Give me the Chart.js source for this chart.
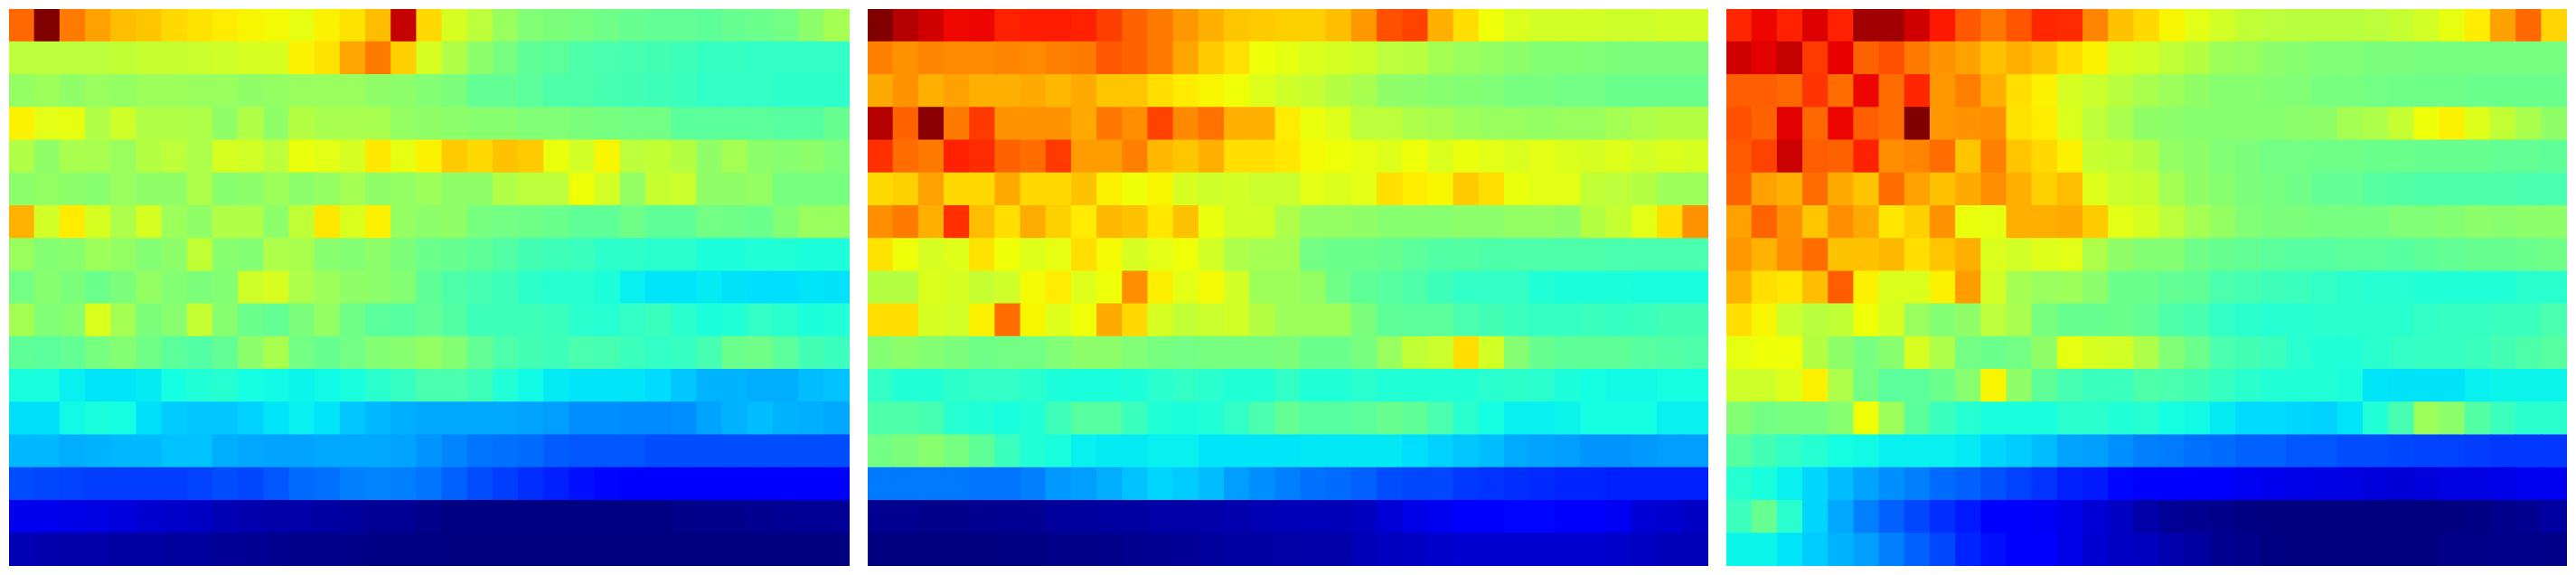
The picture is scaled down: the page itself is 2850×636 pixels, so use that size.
<!DOCTYPE html>
<html>
<head>
<meta charset="utf-8">
<title>Heatmaps</title>
<script src="https://cdn.jsdelivr.net/npm/chart.js@4"></script>
<style>
    html, body { margin: 0; padding: 0; background: #ffffff; }
    .panel { position: absolute; top: 10px; width: 930px; height: 616px; }
</style>
</head>
<body>
<div class="panel" style="left:10px"><canvas id="heatA"></canvas></div>
<div class="panel" style="left:960px"><canvas id="heatB"></canvas></div>
<div class="panel" style="left:1910px"><canvas id="heatC"></canvas></div>
<script>
// cell values on a 0-100 scale, one line per row, top row first
const panelA = [
    [80,100,78,74,71,70,68,67,66,65,64.5,63,65.5,67,71,94,68,61,58,53.5,50.5,50,49.5,48.5,47.5,47,47,46.5,47.5,48,49,52,55],
    [58,58,58,58,58.5,59,59,59.5,60,61,61,65.5,67,73.5,78,69,61,56.5,52,49.5,46.5,46,44.5,44,43.5,43,42.5,41.5,41.5,41,41,41,41],
    [53,54,52.5,53.5,53,54,54,53.5,53.5,52.5,53,53.5,53.5,53.5,52.5,52,51,50,47,47,46,44.5,44.5,43.5,43,42.5,42,41,41,41,40.5,40.5,40.5],
    [65.5,62.5,63,56.5,60,56.5,56.5,56,52.5,56.5,52.5,57,55.5,55.5,55.5,53,52.5,52,51.5,51.5,50.5,50.5,50,49.5,49,49,46,46,46,46,45.5,45.5,47.5],
    [56.5,52.5,55.5,55.5,53.5,57,58,56,61,60.5,58,63.5,62.5,61,66.5,63,65.5,69.5,68,70.5,69.5,63.5,60.5,65,58,58.5,57,52.5,55,52,51.5,52,50.5],
    [52,53,52,51.5,53.5,52.5,52.5,56,51.5,52,54,52,53,55,52.5,53,54,52.5,52.5,56.5,58,58,64,60.5,53,59,59.5,52.5,52.5,53,49.5,49.5,49.5],
    [72,60.5,66,61,56,61,54,52.5,56.5,56.5,52,58.5,66.5,61.5,65.5,53,52,52.5,49.5,49,48.5,48,46.5,46.5,48.5,46.5,46.5,49,48.5,48,51,53.5,53.5],
    [53.5,51,51.5,54,53,51,52,58.5,51.5,51,56,55.5,51.5,51,52,50,48,47.5,46.5,45,43,42.5,42,40.5,40.5,40,40,38.5,38.5,39,39,38.5,38.5],
    [49,51.5,50,48,50,53,51,50,51,60,61,56,54,52.5,52,51,46.5,44.5,43.5,42.5,40.5,39.5,39.5,38.5,36,35,35,35.5,34.8,34.4,34.4,35,34.8],
    [55,50.5,51.5,61.5,55,50,51.5,59,51.5,48,47,50,53,48.5,46,45.5,47,45,42.5,42.5,42.5,42,40,39.5,41,42,40,38.5,39,41,40,38.5,39],
    [46.5,46,47,49.5,51,48.5,46,45,47,52,55.5,49,47.5,49,51,51.5,53,51,47,44.5,43,42.5,44,43.5,42,41,41.5,43.5,48,48.5,46,43,42],
    [38,38,36,35,35,35.5,37.5,39,39.5,37.5,37,36.5,37,38,40,41.5,44,44,42.5,39,37,35.5,35,35,35,34,32,30,30,29.5,29.5,31,31.5],
    [34.5,34.5,37,38,37.5,34.5,32.5,32,32,33,35,36,35,32,30.5,29.5,29,29,29,29,28.5,28,26.5,26.5,26,26,26.5,28.5,30,31,30,29.5,29],
    [30.5,30.5,29.5,30,30.5,30.5,31.5,31.5,29.5,29,28.5,28.5,29,29,29,28.5,27,25.5,24,23.5,23,21.5,21,21,21,20,20,20,20,20,20,20,20],
    [20,19.5,19,18.5,18.5,18.5,18.5,19,20,19.5,21,23,23.5,25,25.5,25,24,22,20,18.5,17,15.5,14,13,12,11,11,11,11,11,11,11,11],
    [9.5,9.5,9,8.5,8,7,6.5,6,4.5,4,3.5,3.5,3,2.5,2,2,1,0.3,0.3,0.3,0.3,0.3,0.3,0.3,0.3,0.5,0.7,1,1.2,1.5,1.8,2,2],
    [4.5,4,3.5,3.5,3,3,2.5,2.5,2,1.8,1.5,1.2,1,0.8,0.5,0.5,0.2,0,0,0,0,0,0,0,0,0,0,0,0,0,0,0,0]
];
const panelB = [
    [100,95.5,93,90.3,90.5,87.5,88,88,87.5,84.3,80.5,78,75,72.5,70,69.5,69,69,70.8,75,82.5,84,72.5,67.5,64,61.5,60.5,60.5,60.5,60,60,60.5,60.5],
    [77.5,75.5,77,76.5,76.5,77,76.5,77.6,78,81.7,80.5,78,73.5,69.5,67.3,64,63,61.5,61,60,58,57.5,55,53.5,53,52,51,51,50.5,50,50,50,50],
    [73,75.5,72.5,74,72.5,72.5,73,71.5,73,70,70,67.5,66,65,64,62,60,59,57,55.5,52.5,52,51.5,51,50.5,49.5,49.5,49,49,48,48,48,48],
    [95.5,80.5,99,78,85,75.5,75.5,75.5,73,78.5,76,84,76.5,79,72.5,72.5,66,63.5,62,58,58,56,55.5,54,53.5,53.5,53,53.5,53.5,55,56,57,57],
    [86,79.5,78,87.5,86.5,80.5,79.5,85,74.5,74.5,77.5,71.5,70,72.5,67.5,67.5,66.5,64.5,64,63,62,64,61.5,63.5,62.5,61.5,62.5,61.5,61,62,60.5,61.5,61],
    [68,69,74,68,68,73,68,68,70.5,65.5,64,65,61,60,60.5,59.5,59.5,62.5,61.5,62.5,67.5,66,65,69.5,67.5,63.5,62.5,62.5,58.5,58,57,54,54],
    [76,78,72.5,86,71,67.5,72.8,69,66,71.5,70.5,66.5,70.5,63.5,60.5,60.5,56,53,53,52.5,51.5,51.5,51.5,52,52,53,53,52.5,57,59,62.5,67.5,75.5],
    [67,64,61,62,67,64,62,63,67.5,64.5,61,62.5,64,60.5,56,55,55,49,48,48,47.5,46,45,45,44.5,44.5,44.5,44.5,44.5,44,44,44,44],
    [57,57,61.5,61,59,60,64.5,66,62,64,76,65.8,62.5,64.5,60.5,54,54,53,48.5,46.5,45.5,44.5,42.5,41,41,41,39,38.5,38.5,38.5,38,38,38],
    [67.5,67.5,61,60.5,65.5,79.5,65,62,64,73,68,61,58.5,59.5,60.5,57,54,54,54,50,46.5,46,46,44,43,42,41.5,41.5,42,41.5,42,43,43],
    [51,52,51,50,48.5,49,49,50.5,52,52,50.5,49.5,49,49.5,49.5,49.5,50,48,48,49.5,53.5,58.5,59.5,67.5,60.5,51,47.5,46.5,46.5,46.5,45.5,45,44.5],
    [41,39,39,40.5,41,41,40,38.5,38,38,38.5,40,41,40,39,39,41,39,39,40,39,39,39,39,40,40.5,40,38.5,37.5,37,37,37.5,37.5],
    [44.5,44.5,43.5,39.5,39,38,39,42.5,45.5,45.5,42,39,38.5,39,41,44,47,45.5,45.5,46,47.5,46.5,44,40,37.5,36,36,36.5,37.5,37.5,37.5,36,36],
    [49,50,51.5,49.5,46.5,42,39,38,36,35.5,35.5,36,36,35,35,35,35,35.2,35.2,35.2,35.2,34.3,33,32,31,29.2,28.5,28,27,27,27.5,28,28],
    [24.5,24.5,24.5,24.5,24,24,25,27.5,28,29.5,31.5,33.5,32.5,31,28,26.5,25,23.5,23,22,20,19.5,19.5,18,17.5,17,16.5,16,16,15.5,15.5,15.5,15.5],
    [1.5,1.5,1,1,1.5,1.7,1.7,2.5,2.5,2.8,2.8,3.5,3.5,3.7,4,4.5,5,5,5,5.5,7.5,9,9.8,11,11,13,13,11.5,11,10,7.5,7,6],
    [0,0,0,0,0,0.2,0.5,0.8,0.8,1,1.5,1.7,2,2.5,2.8,3,3.2,3.5,3.7,5,5.5,6,6.5,7,7,7,7,7,7,6.5,6,5,5]
];
const panelC = [
    [87,90.5,87.5,92,87.5,97,97,93,88.5,81.7,78.5,82,87,86.5,77,70.5,68,65,62.5,60.5,58.5,58,57.5,57.5,57.5,58,59,60.5,63,66,74,80,68.5],
    [93,91.5,94,85,91,80.5,82.5,78,75.5,74,70.5,72.5,70.5,67.5,65.5,61,60.5,58.5,57,54,53.5,52,51.5,50.5,50.5,50,50,49.5,49.5,49.5,49.5,49.5,49.5],
    [81,81,80,85.5,79.5,90.5,79.5,87,75,77.5,72.5,67.5,65.5,61,59.5,57.5,55.5,54,52.5,51.5,51.5,51,50.5,49.5,49.5,49,48.5,48.5,48.5,48,48,48,48],
    [82.5,80.5,91.5,80,90.5,81,79.5,100,75,75.5,76,67,66,61.5,58,55.5,52.5,52,51.5,51.5,51.5,51.5,52,52.5,55,56,59,64,65.5,62,58.5,55.5,52.5],
    [81.5,84,93.5,81,80.5,87.5,76,77,79.5,70,77.5,70,68,65.5,59,58.5,57,53,52,50.5,50,49,49,48.5,48.5,48,48,47.5,47.5,47.5,47,47,46.5],
    [80.5,74,72.5,79.5,73,70,79.5,74,70.5,73,76,72.5,69,71,62,59.5,59,55,52.5,51.5,50,49.5,48.5,47,47,45.5,45,44.5,44.5,44.5,44.5,44,44],
    [74,80.5,75.5,70,76,73,66.5,69,75.5,63.5,63,72.5,72.5,73,69.5,62.5,61,58,55,53,50.5,50,50,49.5,49.5,49.5,50.5,50.5,51,52,51.5,52,52],
    [75,72,76,79.5,70.5,70.5,71.5,67.5,70,72.5,61.5,60.5,62,62.5,56,52.5,51,51,48.5,47.5,47,46,45.5,45.5,46,46,45.5,46.5,47,47.5,47.5,48,48.5],
    [72,67.5,66.5,71,81,65.5,61.5,61.5,65.5,74.5,60.5,55,53.5,54,52,48,48,47,46.5,44,43.5,42.5,42,41,40,39.5,39.5,39,39,39,39,40,40],
    [67.5,65,59.5,57.5,58.5,64,61,53.5,51,52.5,58,55.5,49.5,47.5,47.5,48,47,44.5,43.5,41,40,39.5,39.5,40,40,40,40,41,41.5,41.5,42,42,44],
    [63,64,64,57,52.5,49.5,51.5,61,56,49,48,49,52.5,63,61,60.5,56,50.5,48,44,43,42,40,39,39,40,41,41.5,41.5,42,43,44.5,45.5],
    [60,60,62,65.5,56,49,46,46,48,51.5,65,52.5,46.5,43.5,42,42,44.5,44,43,41.5,40,39,39,39,38.5,35,34.8,34.8,34.8,36,36.5,36.5,36.5],
    [51,49,49.5,49.5,51.5,64,54,46,42,39.5,38,38,38,40,40,39,39.5,37.5,37,35.5,34,34,33.5,33,35,39,43.5,54,52,45,42,40,40],
    [45.5,43,41,39.5,37.5,37,36,36,36,35.5,33.5,32.5,31,28.5,28,26.5,25,24.5,23.5,23,22,22,21,21,20,20,19.5,19,19,18.5,18,18,18],
    [39.5,38,36,33.5,31,28.5,26.5,25,23,22,20.5,19,17.5,15.5,15,13,11,11,11,11,10,9.5,9,8.7,8.5,8,7.5,8,8.5,8.5,9,9.8,9.8],
    [42,47.5,40,33.5,29,25,22,19.5,17,15,11.5,11,10.5,9,7.5,6,3.5,2,1.5,1,0.3,0,0,0,0,0,0,0,0,0.5,1,1.5,2.8],
    [36.5,36.5,35,32.5,30,28,25,22,19.5,16,14,11,11,9,7,6,5.5,4,3,1.5,1,0.3,0,0,0,0,0,0,0.7,0.8,1,1,0.8]
];

// matplotlib style jet colour table
const jetRed = [[0, 0], [0.35, 0], [0.66, 1], [0.89, 1], [1, 0.5]];
const jetGreen = [[0, 0], [0.125, 0], [0.375, 1], [0.64, 1], [0.91, 0], [1, 0]];
const jetBlue = [[0, 0.5], [0.11, 1], [0.34, 1], [0.65, 0], [1, 0]];

function segment(table, v) {
    for (let i = 1; i < table.length; i++) {
        if (v <= table[i][0]) {
            const [x0, y0] = table[i - 1];
            const [x1, y1] = table[i];
            return y0 + (y1 - y0) * (v - x0) / (x1 - x0);
        }
    }
    return table[table.length - 1][1];
}

function jet(value) {
    const v = value / 100;
    const r = Math.round(segment(jetRed, v) * 255);
    const g = Math.round(segment(jetGreen, v) * 255);
    const b = Math.round(segment(jetBlue, v) * 255);
    return `rgb(${r},${g},${b})`;
}

function drawHeatmap(canvasId, rows) {
    const columns = rows[0].map((_, i) => i + 1);
    // bottom row goes first so it sits at the base of the stack
    const datasets = rows.slice().reverse().map((row, i) => ({
        label: `Row ${rows.length - i}`,
        data: row.map(() => 1),
        backgroundColor: row.map(jet),
        borderWidth: 0,
        inflateAmount: 0.5,
        barPercentage: 1,
        categoryPercentage: 1
    }));

    new Chart(document.getElementById(canvasId), {
        type: 'bar',
        data: { labels: columns, datasets: datasets },
        options: {
            responsive: true,
            maintainAspectRatio: false,
            animation: false,
            layout: { padding: 0 },
            plugins: { legend: { display: false }, tooltip: { enabled: false } },
            scales: {
                x: { stacked: true, display: false },
                y: { stacked: true, display: false, min: 0, max: rows.length }
            }
        }
    });
}

drawHeatmap('heatA', panelA);
drawHeatmap('heatB', panelB);
drawHeatmap('heatC', panelC);
</script>
</body>
</html>
